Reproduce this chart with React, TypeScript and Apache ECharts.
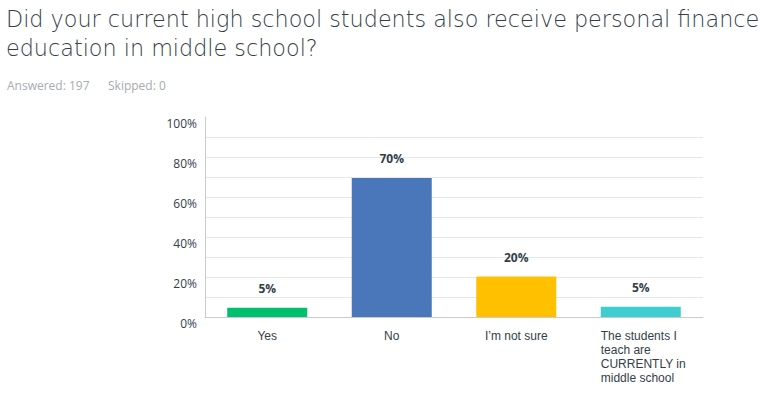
import React, { useEffect, useRef } from "react";
import * as echarts from "echarts";

const titleLines = [
  "Did your current high school students also receive personal finance",
  "education in middle school?",
];
const answeredText = "Answered: 197";
const skippedText = "Skipped: 0";
const categories = ["Yes", "No", "I\u2019m not sure", "The students I\nteach are\nCURRENTLY in\nmiddle school"];
const values = [4.57, 69.54, 20.3, 5.08];
const barColors = ["#00bf6f", "#4a76ba", "#ffc000", "#3ecdd0"];
const yTicks = [0, 20, 40, 60, 80, 100];

const FONT = "'Open Sans', 'Noto Sans', sans-serif";
const XFONT = "'Liberation Sans', Arial, sans-serif";
const TFONT = "'DejaVu Sans', sans-serif";

export default function App() {
  const ref = useRef<HTMLDivElement>(null);
  useEffect(() => {
    if (!ref.current) return;
    const chart = echarts.init(ref.current, null, { renderer: "svg" });
    chart.setOption({
      animation: false,
      backgroundColor: "#ffffff",
      textStyle: { fontFamily: FONT },
      graphic: [
        {
          type: "text",
          left: 6,
          top: 4,
          style: {
            text: titleLines.join("\n"),
            font: `200 22.3px ${TFONT}`,
            lineHeight: 29,
            fill: "#333e48",
          },
        },
        {
          type: "text",
          left: 7,
          top: 79,
          style: { text: answeredText, font: `12px ${FONT}`, fill: "#a6abb0" },
        },
        {
          type: "text",
          left: 108,
          top: 79,
          style: { text: skippedText, font: `12px ${FONT}`, fill: "#a6abb0" },
        },
      ],
      grid: { left: 205, right: 62, top: 117, bottom: 81, containLabel: false },
      xAxis: {
        type: "category",
        data: categories,
        axisLine: { lineStyle: { color: "#c8cacc", width: 1 } },
        axisTick: { show: false },
        axisLabel: {
          interval: 0,
          margin: 12,
          color: "#333e48",
          fontSize: 12,
          fontFamily: XFONT,
          lineHeight: 14,
          formatter: (v: string) => (v.includes("\n") ? `{l|${v}}` : v),
          rich: {
            l: { width: 80, align: "left", fontSize: 12, lineHeight: 14, color: "#333e48", fontFamily: XFONT },
          },
        },
      },
      yAxis: {
        type: "value",
        min: 0,
        max: 100,
        interval: 10,
        axisLine: { show: true, lineStyle: { color: "#c8cacc", width: 1 } },
        axisTick: { show: false },
        splitLine: { show: true, showMaxLine: false, lineStyle: { color: "#e6e7e8", width: 1 } },
        axisLabel: {
          margin: 8,
          color: "#333e48",
          fontSize: 12,
          fontFamily: FONT,
          verticalAlign: "top",
          formatter: (v: number) => (yTicks.includes(v) ? `${v}%` : ""),
        },
      },
      series: [
        {
          type: "bar",
          barWidth: 80,
          data: values.map((v, i) => ({ value: v, itemStyle: { color: barColors[i] } })),
          label: {
            show: true,
            position: "top",
            distance: 13,
            fontWeight: "bold",
            fontSize: 12,
            color: "#333e48",
            fontFamily: FONT,
            formatter: (p: any) => `${Math.round(p.value)}%`,
          },
        },
      ],
    });
    return () => chart.dispose();
  }, []);
  return <div ref={ref} style={{ width: 765, height: 398, position: "absolute", left: 0, top: 0 }} />;
}
